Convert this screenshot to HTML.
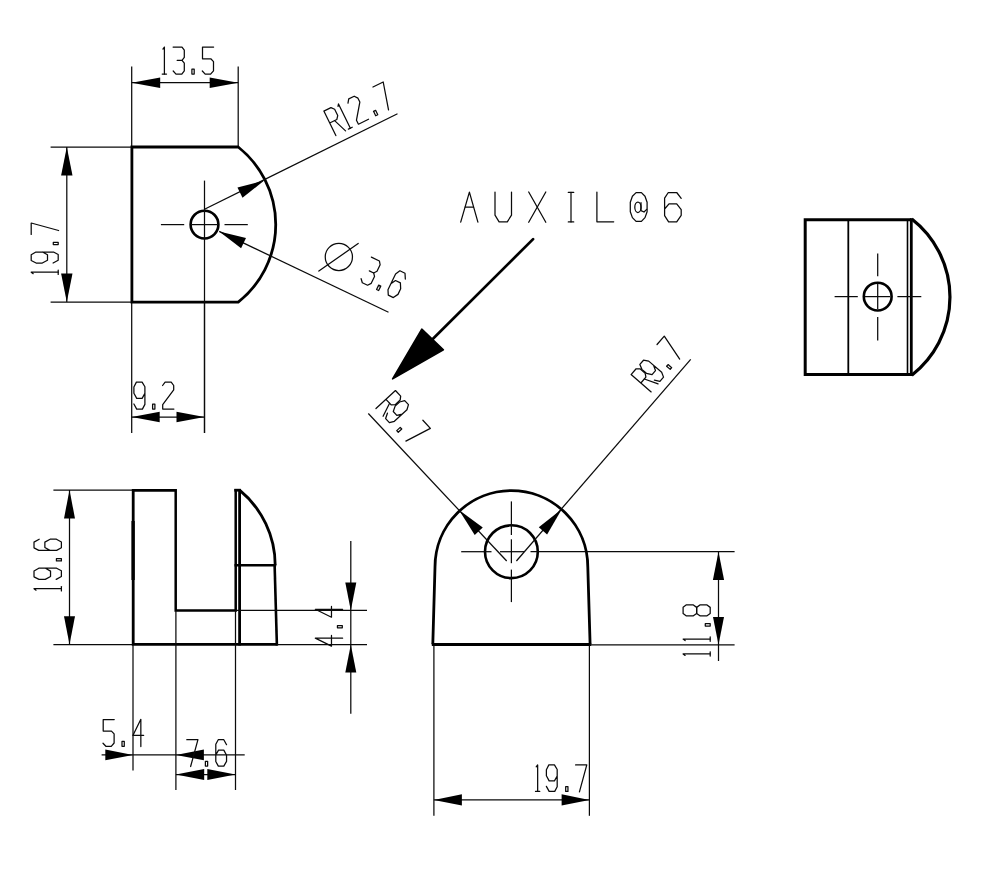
<!DOCTYPE html>
<html><head><meta charset="utf-8"><title>drawing</title>
<style>html,body{margin:0;padding:0;background:#fff;font-family:"Liberation Sans",sans-serif}svg{display:block}</style>
</head><body>
<svg width="1000" height="877" viewBox="0 0 1000 877">
<rect x="0" y="0" width="1000" height="877" fill="#fff"/>
<line x1="131.7" y1="66.4" x2="131.7" y2="433" stroke="#0a0a0a" stroke-width="1.25" stroke-linecap="butt"/>
<line x1="238.2" y1="66.4" x2="238.2" y2="146.5" stroke="#0a0a0a" stroke-width="1.25" stroke-linecap="butt"/>
<line x1="204.5" y1="302" x2="204.5" y2="433" stroke="#0a0a0a" stroke-width="1.25" stroke-linecap="butt"/>
<line x1="50.6" y1="147" x2="131" y2="147" stroke="#0a0a0a" stroke-width="1.25" stroke-linecap="butt"/>
<line x1="50.6" y1="302" x2="131" y2="302" stroke="#0a0a0a" stroke-width="1.25" stroke-linecap="butt"/>
<line x1="131.7" y1="82.7" x2="238.2" y2="82.7" stroke="#0a0a0a" stroke-width="1.25" stroke-linecap="butt"/>
<polygon points="131.7,82.7 160.2,77.5 160.2,87.9" fill="#000"/>
<polygon points="238.2,82.7 209.7,87.9 209.7,77.5" fill="#000"/>
<line x1="66.8" y1="147" x2="66.8" y2="302" stroke="#0a0a0a" stroke-width="1.25" stroke-linecap="butt"/>
<polygon points="66.8,147 72.5,175.4 61.1,175.4" fill="#000"/>
<polygon points="66.8,302 61.1,273.6 72.5,273.6" fill="#000"/>
<line x1="131.7" y1="417" x2="204.5" y2="417" stroke="#0a0a0a" stroke-width="1.25" stroke-linecap="butt"/>
<polygon points="131.7,417 159.7,411.8 159.7,422.2" fill="#000"/>
<polygon points="204.5,417 176.5,422.2 176.5,411.8" fill="#000"/>
<path d="M238.2 147 L131.9 147 L131.9 302.2 L238.2 302.2 A99 99 0 0 0 238.2 147 Z" fill="none" stroke="#000" stroke-width="2.8" stroke-linejoin="miter"/>
<circle cx="204.5" cy="224.6" r="13.9" fill="none" stroke="#000" stroke-width="2.6"/>
<line x1="160.9" y1="224.6" x2="184.2" y2="224.6" stroke="#0a0a0a" stroke-width="1.25" stroke-linecap="butt"/>
<line x1="192" y1="224.6" x2="217" y2="224.6" stroke="#0a0a0a" stroke-width="1.25" stroke-linecap="butt"/>
<line x1="224.5" y1="224.6" x2="247.8" y2="224.6" stroke="#0a0a0a" stroke-width="1.25" stroke-linecap="butt"/>
<line x1="204.5" y1="180.6" x2="204.5" y2="302" stroke="#0a0a0a" stroke-width="1.25" stroke-linecap="butt"/>
<line x1="204.5" y1="302" x2="204.5" y2="433" stroke="#0a0a0a" stroke-width="1.25" stroke-linecap="butt"/>
<line x1="204.5" y1="209.3" x2="397.5" y2="113.8" stroke="#0a0a0a" stroke-width="1.25" stroke-linecap="butt"/>
<polygon points="264.2,180.6 242.52,197.67 237.47,187.45" fill="#000"/>
<line x1="219.2" y1="231.4" x2="388.5" y2="312.3" stroke="#0a0a0a" stroke-width="1.25" stroke-linecap="butt"/>
<polygon points="219.2,231.4 246.01,237.93 241.09,248.21" fill="#000"/>
<path d="M162.9 49.1 L164.4 47.1 L164.4 74.1" fill="none" stroke="#0a0a0a" stroke-width="1.25" stroke-linejoin="round" stroke-linecap="round"/>
<path d="M162.2 74.1 L166.5 74.1" fill="none" stroke="#0a0a0a" stroke-width="1.25" stroke-linejoin="round" stroke-linecap="round"/>
<path d="M173.1 47.1 L182 47.1 L184.3 50.2 L184.3 57.4 L182 60.4 L177.2 60.4" fill="none" stroke="#0a0a0a" stroke-width="1.25" stroke-linejoin="round" stroke-linecap="round"/>
<path d="M182 60.4 L184.3 63.2 L184.3 70.8 L181.8 74.1 L176 74.1 L173.2 71" fill="none" stroke="#0a0a0a" stroke-width="1.25" stroke-linejoin="round" stroke-linecap="round"/>
<path d="M191.9 69.2 L194.2 69.2 L194.2 74.1 L191.9 74.1 L191.9 69.2" fill="none" stroke="#0a0a0a" stroke-width="1.25" stroke-linejoin="round" stroke-linecap="round"/>
<path d="M213.6 47.1 L202.5 47.1 L202.5 58.8 L210.8 58.8 L213.5 61.6 L213.5 70.8 L210.6 74.1 L205.2 74.1 L202.3 71" fill="none" stroke="#0a0a0a" stroke-width="1.25" stroke-linejoin="round" stroke-linecap="round"/>
<path d="M133.9 404 L136.7 409.1 L142.4 409.1 L144.9 404.4 L144.9 386.8 L142.1 382.1 L136.4 382.1 L133.9 387 L133.9 393.2 L136.7 398.4 L142.1 398.4 L144.9 393.4" fill="none" stroke="#0a0a0a" stroke-width="1.25" stroke-linejoin="round" stroke-linecap="round"/>
<path d="M152.6 404.2 L154.9 404.2 L154.9 409.1 L152.6 409.1 L152.6 404.2" fill="none" stroke="#0a0a0a" stroke-width="1.25" stroke-linejoin="round" stroke-linecap="round"/>
<path d="M162.6 385.5 L165.1 382.1 L171.2 382.1 L173.7 385.5 L173.7 389.8 L162.7 404.6 L162.7 409.1 L173.9 409.1" fill="none" stroke="#0a0a0a" stroke-width="1.25" stroke-linejoin="round" stroke-linecap="round"/>
<path d="M33.2 273.7 L31.2 272.2 L58.2 272.2" fill="none" stroke="#0a0a0a" stroke-width="1.25" stroke-linejoin="round" stroke-linecap="round"/>
<path d="M58.2 274.4 L58.2 270.1" fill="none" stroke="#0a0a0a" stroke-width="1.25" stroke-linejoin="round" stroke-linecap="round"/>
<path d="M53.1 263 L58.2 260.2 L58.2 254.5 L53.5 252 L35.9 252 L31.2 254.8 L31.2 260.5 L36.1 263 L42.3 263 L47.5 260.2 L47.5 254.8 L42.5 252" fill="none" stroke="#0a0a0a" stroke-width="1.25" stroke-linejoin="round" stroke-linecap="round"/>
<path d="M53.3 244.6 L53.3 242.3 L58.2 242.3 L58.2 244.6 L53.3 244.6" fill="none" stroke="#0a0a0a" stroke-width="1.25" stroke-linejoin="round" stroke-linecap="round"/>
<path d="M31.2 234.4 L31.2 223 L58.6 230.5" fill="none" stroke="#0a0a0a" stroke-width="1.25" stroke-linejoin="round" stroke-linecap="round"/>
<path d="M335.86 135.6 L323.85 111.08 L330.95 107.61 L334.64 109.25 L337.72 115.53 L336.8 119.55 L329.7 123.03" fill="none" stroke="#0a0a0a" stroke-width="1.25" stroke-linejoin="round" stroke-linecap="round"/>
<path d="M334.64 120.61 L345.56 130.85" fill="none" stroke="#0a0a0a" stroke-width="1.25" stroke-linejoin="round" stroke-linecap="round"/>
<path d="M338.02 106.37 L338.49 103.91 L350.37 128.16" fill="none" stroke="#0a0a0a" stroke-width="1.25" stroke-linejoin="round" stroke-linecap="round"/>
<path d="M348.39 129.13 L352.25 127.24" fill="none" stroke="#0a0a0a" stroke-width="1.25" stroke-linejoin="round" stroke-linecap="round"/>
<path d="M347.98 103.05 L348.73 98.9 L354.2 96.21 L357.94 98.17 L359.84 102.03 L356.47 120.16 L358.45 124.2 L368.51 119.27" fill="none" stroke="#0a0a0a" stroke-width="1.25" stroke-linejoin="round" stroke-linecap="round"/>
<path d="M373.54 111.35 L375.6 110.34 L377.76 114.74 L375.69 115.75 L373.54 111.35" fill="none" stroke="#0a0a0a" stroke-width="1.25" stroke-linejoin="round" stroke-linecap="round"/>
<path d="M372.97 87.02 L383.21 82 L388.53 109.91" fill="none" stroke="#0a0a0a" stroke-width="1.25" stroke-linejoin="round" stroke-linecap="round"/>
<path d="M371.37 257.11 L379.4 260.96 L380.13 264.75 L377.02 271.24 L373.65 272.95 L369.32 270.88" fill="none" stroke="#0a0a0a" stroke-width="1.25" stroke-linejoin="round" stroke-linecap="round"/>
<path d="M373.65 272.95 L374.51 276.47 L371.23 283.32 L367.55 285.22 L362.32 282.71 L361.13 278.71" fill="none" stroke="#0a0a0a" stroke-width="1.25" stroke-linejoin="round" stroke-linecap="round"/>
<path d="M378.69 285.12 L380.76 286.12 L378.64 290.53 L376.57 289.54 L378.69 285.12" fill="none" stroke="#0a0a0a" stroke-width="1.25" stroke-linejoin="round" stroke-linecap="round"/>
<path d="M405.33 279.04 L405.01 273.23 L399.87 270.76 L395.58 273.92 L387.98 289.8 L388.29 295.16 L393.34 297.58 L397.99 294.37 L400.66 288.78 L400.39 282.88 L395.52 280.54 L390.83 283.84" fill="none" stroke="#0a0a0a" stroke-width="1.25" stroke-linejoin="round" stroke-linecap="round"/>
<circle cx="338.85" cy="256.94" r="13.6" fill="none" stroke="#0a0a0a" stroke-width="1.25"/>
<line x1="318.87" y1="271.1" x2="358.17" y2="243.47" stroke="#0a0a0a" stroke-width="1.25" stroke-linecap="round"/>
<path d="M460.7 222.2 L469.4 192.2 L477.9 222.2" fill="none" stroke="#0a0a0a" stroke-width="1.25" stroke-linejoin="round" stroke-linecap="round"/>
<path d="M465.2 207 L473.5 207" fill="none" stroke="#0a0a0a" stroke-width="1.25" stroke-linejoin="round" stroke-linecap="round"/>
<path d="M495 192 L495 215.2 L499.1 221.8 L507.3 221.8 L511.5 215.2 L511.5 192" fill="none" stroke="#0a0a0a" stroke-width="1.25" stroke-linejoin="round" stroke-linecap="round"/>
<path d="M528.7 192 L545.8 222.3" fill="none" stroke="#0a0a0a" stroke-width="1.25" stroke-linejoin="round" stroke-linecap="round"/>
<path d="M545.8 192 L528.7 222.3" fill="none" stroke="#0a0a0a" stroke-width="1.25" stroke-linejoin="round" stroke-linecap="round"/>
<path d="M571 192.4 L571 221.9" fill="none" stroke="#0a0a0a" stroke-width="1.25" stroke-linejoin="round" stroke-linecap="round"/>
<path d="M568.3 192.4 L573.7 192.4" fill="none" stroke="#0a0a0a" stroke-width="1.25" stroke-linejoin="round" stroke-linecap="round"/>
<path d="M568.3 221.9 L573.7 221.9" fill="none" stroke="#0a0a0a" stroke-width="1.25" stroke-linejoin="round" stroke-linecap="round"/>
<path d="M596.9 192 L596.9 221.8 L613.7 221.8" fill="none" stroke="#0a0a0a" stroke-width="1.25" stroke-linejoin="round" stroke-linecap="round"/>
<path d="M681.2 198.3 L676.7 192.5 L668.3 192.5 L664.6 198.1 L664.6 215.7 L668.6 221.8 L676.7 221.8 L681.2 215.3 L681.2 209.7 L676.7 203.8 L669 203.8 L664.6 209" fill="none" stroke="#0a0a0a" stroke-width="1.25" stroke-linejoin="round" stroke-linecap="round"/>
<path d="M636.1 192.6 L641.4 192.6 L645 196.2 L647.1 202.2 L647.1 211.8 L645 217.6 L641.4 221.4 L636.1 221.4 L632.4 217.6 L630.3 211.8 L630.3 202.2 L632.4 196.2 Z" fill="none" stroke="#0a0a0a" stroke-width="1.25" stroke-linejoin="round" stroke-linecap="round"/>
<ellipse cx="637.9" cy="207.3" rx="3.1" ry="5.2" fill="none" stroke="#0a0a0a" stroke-width="1.25"/>
<path d="M641 202.7 L641 210.6 L644 212 L646.7 209.4" fill="none" stroke="#0a0a0a" stroke-width="1.25" stroke-linejoin="round" stroke-linecap="round"/>
<line x1="533.1" y1="239.1" x2="430" y2="341.7" stroke="#000" stroke-width="2.7" stroke-linecap="round"/>
<polygon points="392.6,378.9 421.8,329.2 443.4,349.8" fill="#000" stroke="#000" stroke-width="1.6" stroke-linejoin="round"/>
<path d="M911.3 219.7 L805.2 219.7 L805.2 374.5 L911.3 374.5" fill="none" stroke="#000" stroke-width="3"/>
<path d="M911.8 219.0 A99 99 0 0 1 911.8 375.2" fill="none" stroke="#000" stroke-width="3.2"/>
<line x1="911.3" y1="218.2" x2="911.3" y2="376" stroke="#000" stroke-width="2.8" stroke-linecap="butt"/>
<line x1="907.5" y1="219.8" x2="907.5" y2="374.4" stroke="#000" stroke-width="1.6" stroke-linecap="butt"/>
<line x1="848.3" y1="219.8" x2="848.3" y2="374.4" stroke="#000" stroke-width="1.8" stroke-linecap="butt"/>
<circle cx="877.7" cy="296.6" r="13.9" fill="none" stroke="#000" stroke-width="2.6"/>
<line x1="834.6" y1="296.6" x2="857.8" y2="296.6" stroke="#0a0a0a" stroke-width="1.25" stroke-linecap="butt"/>
<line x1="865" y1="296.6" x2="890.2" y2="296.6" stroke="#0a0a0a" stroke-width="1.25" stroke-linecap="butt"/>
<line x1="897.4" y1="296.6" x2="921.3" y2="296.6" stroke="#0a0a0a" stroke-width="1.25" stroke-linecap="butt"/>
<line x1="877.7" y1="253.5" x2="877.7" y2="276.2" stroke="#0a0a0a" stroke-width="1.25" stroke-linecap="butt"/>
<line x1="877.7" y1="284" x2="877.7" y2="309" stroke="#0a0a0a" stroke-width="1.25" stroke-linecap="butt"/>
<line x1="877.7" y1="316.9" x2="877.7" y2="340.4" stroke="#0a0a0a" stroke-width="1.25" stroke-linecap="butt"/>
<line x1="53.4" y1="490" x2="133" y2="490" stroke="#0a0a0a" stroke-width="1.25" stroke-linecap="butt"/>
<line x1="53.4" y1="644.6" x2="133" y2="644.6" stroke="#0a0a0a" stroke-width="1.25" stroke-linecap="butt"/>
<line x1="69.5" y1="490" x2="69.5" y2="644.6" stroke="#0a0a0a" stroke-width="1.25" stroke-linecap="butt"/>
<polygon points="69.5,490 75,518.4 64,518.4" fill="#000"/>
<polygon points="69.5,644.6 64,616.2 75,616.2" fill="#000"/>
<path d="M36.04 590.19 L34.01 588.67 L61.39 588.67" fill="none" stroke="#0a0a0a" stroke-width="1.25" stroke-linejoin="round" stroke-linecap="round"/>
<path d="M61.39 590.9 L61.39 586.54" fill="none" stroke="#0a0a0a" stroke-width="1.25" stroke-linejoin="round" stroke-linecap="round"/>
<path d="M56.22 579.39 L61.39 576.55 L61.39 570.77 L56.63 568.24 L38.77 568.24 L34.01 571.08 L34.01 576.86 L38.98 579.39 L45.27 579.39 L50.54 576.55 L50.54 571.08 L45.47 568.24" fill="none" stroke="#0a0a0a" stroke-width="1.25" stroke-linejoin="round" stroke-linecap="round"/>
<path d="M56.42 560.99 L56.42 558.66 L61.39 558.66 L61.39 560.99 L56.42 560.99" fill="none" stroke="#0a0a0a" stroke-width="1.25" stroke-linejoin="round" stroke-linecap="round"/>
<path d="M39.18 539.24 L34.01 542.08 L34.01 547.86 L38.77 550.39 L56.63 550.39 L61.39 547.76 L61.39 542.08 L56.42 539.24 L50.13 539.24 L44.86 542.08 L44.86 547.55 L49.93 550.39" fill="none" stroke="#0a0a0a" stroke-width="1.25" stroke-linejoin="round" stroke-linecap="round"/>
<path d="M175.7 490.4 L133.2 490.4 L133.2 644.3 L277.6 644.3" fill="none" stroke="#000" stroke-width="2.8" stroke-linejoin="miter" stroke-linecap="butt"/>
<path d="M175.7 489 L175.7 610.4 L235.7 610.4 L235.7 489" fill="none" stroke="#000" stroke-width="2.5" stroke-linejoin="miter" stroke-linecap="butt"/>
<line x1="133.1" y1="521" x2="133.1" y2="580" stroke="#000" stroke-width="3.3" stroke-linecap="butt"/>
<path d="M234.3 490.2 L240.8 490.2" fill="none" stroke="#000" stroke-width="2.8" stroke-linejoin="miter" stroke-linecap="butt"/>
<line x1="239.6" y1="489" x2="239.6" y2="645.5" stroke="#000" stroke-width="2.8" stroke-linecap="butt"/>
<path d="M239.6 490.2 A97.5 97.5 0 0 1 275.2 565.2" fill="none" stroke="#000" stroke-width="2.8"/>
<line x1="234.5" y1="565.2" x2="276.2" y2="565.2" stroke="#000" stroke-width="2.6" stroke-linecap="butt"/>
<line x1="274.6" y1="564.2" x2="276.9" y2="645.5" stroke="#000" stroke-width="2.6" stroke-linecap="butt"/>
<line x1="235.7" y1="610.4" x2="367" y2="610.4" stroke="#0a0a0a" stroke-width="1.25" stroke-linecap="butt"/>
<line x1="277" y1="644.6" x2="367" y2="644.6" stroke="#0a0a0a" stroke-width="1.25" stroke-linecap="butt"/>
<line x1="133" y1="645" x2="133" y2="770.6" stroke="#0a0a0a" stroke-width="1.25" stroke-linecap="butt"/>
<line x1="175.9" y1="611" x2="175.9" y2="790" stroke="#0a0a0a" stroke-width="1.25" stroke-linecap="butt"/>
<line x1="235.5" y1="611" x2="235.5" y2="790" stroke="#0a0a0a" stroke-width="1.25" stroke-linecap="butt"/>
<line x1="350.8" y1="541" x2="350.8" y2="713.7" stroke="#0a0a0a" stroke-width="1.25" stroke-linecap="butt"/>
<polygon points="350.8,610.4 345.3,582.6 356.3,582.6" fill="#000"/>
<polygon points="350.8,644.8 356.3,672.6 345.3,672.6" fill="#000"/>
<path d="M342.6 638.16 L315.3 638.16 L331.48 646.1 L331.48 635.38" fill="none" stroke="#0a0a0a" stroke-width="1.25" stroke-linejoin="round" stroke-linecap="round"/>
<path d="M337.44 627.8 L337.44 625.52 L342.3 625.52 L342.3 627.8 L337.44 627.8" fill="none" stroke="#0a0a0a" stroke-width="1.25" stroke-linejoin="round" stroke-linecap="round"/>
<path d="M342.6 609.26 L315.3 609.26 L331.48 617.2 L331.48 606.48" fill="none" stroke="#0a0a0a" stroke-width="1.25" stroke-linejoin="round" stroke-linecap="round"/>
<line x1="101.6" y1="754.9" x2="244.7" y2="754.9" stroke="#0a0a0a" stroke-width="1.25" stroke-linecap="butt"/>
<polygon points="133,754.9 105.3,760.3 105.3,749.5" fill="#000"/>
<polygon points="175.9,754.9 203.9,749.5 203.9,760.3" fill="#000"/>
<line x1="175.9" y1="774.5" x2="235.5" y2="774.5" stroke="#0a0a0a" stroke-width="1.25" stroke-linecap="butt"/>
<polygon points="175.9,774.5 204.2,769.1 204.2,779.9" fill="#000"/>
<polygon points="235.5,774.5 207.3,779.9 207.3,769.1" fill="#000"/>
<path d="M114.22 719.5 L103.2 719.5 L103.2 731.11 L111.44 731.11 L114.12 733.89 L114.12 743.03 L111.24 746.3 L105.88 746.3 L103 743.23" fill="none" stroke="#0a0a0a" stroke-width="1.25" stroke-linejoin="round" stroke-linecap="round"/>
<path d="M122 741.44 L124.28 741.44 L124.28 746.3 L122 746.3 L122 741.44" fill="none" stroke="#0a0a0a" stroke-width="1.25" stroke-linejoin="round" stroke-linecap="round"/>
<path d="M140.84 746.6 L140.84 719.3 L132.9 735.48 L143.62 735.48" fill="none" stroke="#0a0a0a" stroke-width="1.25" stroke-linejoin="round" stroke-linecap="round"/>
<path d="M186.8 739.69 L197.95 739.69 L190.61 766.5" fill="none" stroke="#0a0a0a" stroke-width="1.25" stroke-linejoin="round" stroke-linecap="round"/>
<path d="M205.39 761.32 L207.64 761.32 L207.64 766.11 L205.39 766.11 L205.39 761.32" fill="none" stroke="#0a0a0a" stroke-width="1.25" stroke-linejoin="round" stroke-linecap="round"/>
<path d="M226.55 744.68 L223.81 739.69 L218.24 739.69 L215.79 744.29 L215.79 761.51 L218.33 766.11 L223.81 766.11 L226.55 761.32 L226.55 755.25 L223.81 750.16 L218.53 750.16 L215.79 755.05" fill="none" stroke="#0a0a0a" stroke-width="1.25" stroke-linejoin="round" stroke-linecap="round"/>
<path d="M432.8 644.4 L435 567 A76.4 76.4 0 0 1 587.8 567 L590.1 644.4" fill="none" stroke="#000" stroke-width="2.8"/>
<line x1="431.8" y1="644.4" x2="591.2" y2="644.4" stroke="#000" stroke-width="3" stroke-linecap="butt"/>
<circle cx="511.4" cy="551.7" r="26.4" fill="none" stroke="#000" stroke-width="2.6"/>
<line x1="461.2" y1="551.7" x2="491.5" y2="551.7" stroke="#0a0a0a" stroke-width="1.25" stroke-linecap="butt"/>
<line x1="500" y1="551.7" x2="524" y2="551.7" stroke="#0a0a0a" stroke-width="1.25" stroke-linecap="butt"/>
<line x1="530.5" y1="551.7" x2="734.6" y2="551.7" stroke="#0a0a0a" stroke-width="1.25" stroke-linecap="butt"/>
<line x1="511.4" y1="501.4" x2="511.4" y2="535" stroke="#0a0a0a" stroke-width="1.25" stroke-linecap="butt"/>
<line x1="511.4" y1="539.3" x2="511.4" y2="563.2" stroke="#0a0a0a" stroke-width="1.25" stroke-linecap="butt"/>
<line x1="511.4" y1="569.6" x2="511.4" y2="602.1" stroke="#0a0a0a" stroke-width="1.25" stroke-linecap="butt"/>
<line x1="368.3" y1="413.5" x2="506.7" y2="561" stroke="#0a0a0a" stroke-width="1.25" stroke-linecap="butt"/>
<polygon points="459,510 482.77,527.5 474.71,534.99" fill="#000"/>
<line x1="690.7" y1="359.3" x2="516.4" y2="561" stroke="#0a0a0a" stroke-width="1.25" stroke-linecap="butt"/>
<polygon points="561.9,509 547.11,534.55 538.79,527.36" fill="#000"/>
<path d="M375.97 408.53 L395.46 390.54 L400.67 396.18 L400.17 400.08 L395.17 404.69 L391.17 404.94 L385.97 399.3" fill="none" stroke="#0a0a0a" stroke-width="1.25" stroke-linejoin="round" stroke-linecap="round"/>
<path d="M389.59 403.23 L383.09 416.24" fill="none" stroke="#0a0a0a" stroke-width="1.25" stroke-linejoin="round" stroke-linecap="round"/>
<path d="M387.42 413.2 L385.63 418.56 L389.38 422.63 L394.38 421.32 L406.95 409.72 L408.46 404.63 L404.7 400.56 L399.56 402 L395.13 406.08 L393.27 411.51 L396.82 415.36 L402.24 414.07" fill="none" stroke="#0a0a0a" stroke-width="1.25" stroke-linejoin="round" stroke-linecap="round"/>
<path d="M400.23 427.37 L401.75 429.01 L398.25 432.24 L396.73 430.6 L400.23 427.37" fill="none" stroke="#0a0a0a" stroke-width="1.25" stroke-linejoin="round" stroke-linecap="round"/>
<path d="M422.87 420.24 L430.38 428.38 L405.87 441.07" fill="none" stroke="#0a0a0a" stroke-width="1.25" stroke-linejoin="round" stroke-linecap="round"/>
<path d="M651.17 391.91 L631.09 374.58 L636.11 368.77 L640.04 368.82 L645.19 373.27 L645.89 377.21 L640.88 383.02" fill="none" stroke="#0a0a0a" stroke-width="1.25" stroke-linejoin="round" stroke-linecap="round"/>
<path d="M644.37 378.97 L658.03 383.96" fill="none" stroke="#0a0a0a" stroke-width="1.25" stroke-linejoin="round" stroke-linecap="round"/>
<path d="M654.39 380.15 L659.91 381.33 L663.53 377.14 L661.66 372.32 L648.72 361.14 L643.49 360.22 L639.87 364.41 L641.89 369.36 L646.44 373.3 L652.05 374.54 L655.47 370.57 L653.57 365.33" fill="none" stroke="#0a0a0a" stroke-width="1.25" stroke-linejoin="round" stroke-linecap="round"/>
<path d="M666.62 366.27 L668.08 364.58 L671.69 367.69 L670.23 369.38 L666.62 366.27" fill="none" stroke="#0a0a0a" stroke-width="1.25" stroke-linejoin="round" stroke-linecap="round"/>
<path d="M657.04 344.52 L664.28 336.13 L679.67 359.04" fill="none" stroke="#0a0a0a" stroke-width="1.25" stroke-linejoin="round" stroke-linecap="round"/>
<line x1="590" y1="644.8" x2="734.6" y2="644.8" stroke="#0a0a0a" stroke-width="1.25" stroke-linecap="butt"/>
<line x1="718.5" y1="551.7" x2="718.5" y2="661" stroke="#0a0a0a" stroke-width="1.25" stroke-linecap="butt"/>
<polygon points="718.5,551.7 724.1,580 712.9,580" fill="#000"/>
<polygon points="718.5,644.8 713,617 724,617" fill="#000"/>
<path d="M685.11 655.4 L683.1 653.89 L710.2 653.89" fill="none" stroke="#0a0a0a" stroke-width="1.25" stroke-linejoin="round" stroke-linecap="round"/>
<path d="M710.2 656.1 L710.2 651.78" fill="none" stroke="#0a0a0a" stroke-width="1.25" stroke-linejoin="round" stroke-linecap="round"/>
<path d="M685.11 640.6 L683.1 639.09 L710.2 639.09" fill="none" stroke="#0a0a0a" stroke-width="1.25" stroke-linejoin="round" stroke-linecap="round"/>
<path d="M710.2 641.3 L710.2 636.98" fill="none" stroke="#0a0a0a" stroke-width="1.25" stroke-linejoin="round" stroke-linecap="round"/>
<path d="M705.28 626 L705.28 623.69 L710.2 623.69 L710.2 626 L705.28 626" fill="none" stroke="#0a0a0a" stroke-width="1.25" stroke-linejoin="round" stroke-linecap="round"/>
<path d="M683.1 613.39 L683.1 607.37 L686.41 604.86 L693.04 604.86 L696.65 607.37 L696.65 613.39 L693.04 615.9 L686.41 615.9 L683.1 613.39" fill="none" stroke="#0a0a0a" stroke-width="1.25" stroke-linejoin="round" stroke-linecap="round"/>
<path d="M696.65 613.39 L696.65 607.37 L700.26 604.86 L706.69 604.86 L710.2 607.37 L710.2 613.39 L706.69 615.9 L700.26 615.9 L696.65 613.39" fill="none" stroke="#0a0a0a" stroke-width="1.25" stroke-linejoin="round" stroke-linecap="round"/>
<line x1="433.9" y1="645" x2="433.9" y2="815.8" stroke="#0a0a0a" stroke-width="1.25" stroke-linecap="butt"/>
<line x1="589.4" y1="645" x2="589.4" y2="815.8" stroke="#0a0a0a" stroke-width="1.25" stroke-linecap="butt"/>
<line x1="433.9" y1="799.9" x2="589.4" y2="799.9" stroke="#0a0a0a" stroke-width="1.25" stroke-linecap="butt"/>
<polygon points="433.9,799.9 461.9,794.3 461.9,805.5" fill="#000"/>
<polygon points="589.4,799.9 561.6,805.5 561.6,794.3" fill="#000"/>
<path d="M536.18 766.86 L537.66 764.89 L537.66 791.41" fill="none" stroke="#0a0a0a" stroke-width="1.25" stroke-linejoin="round" stroke-linecap="round"/>
<path d="M535.5 791.41 L539.72 791.41" fill="none" stroke="#0a0a0a" stroke-width="1.25" stroke-linejoin="round" stroke-linecap="round"/>
<path d="M546.39 786.4 L549.14 791.41 L554.74 791.41 L557.19 786.79 L557.19 769.51 L554.44 764.89 L548.85 764.89 L546.39 769.7 L546.39 775.79 L549.14 780.9 L554.44 780.9 L557.19 775.99" fill="none" stroke="#0a0a0a" stroke-width="1.25" stroke-linejoin="round" stroke-linecap="round"/>
<path d="M565.69 786.6 L567.95 786.6 L567.95 791.41 L565.69 791.41 L565.69 786.6" fill="none" stroke="#0a0a0a" stroke-width="1.25" stroke-linejoin="round" stroke-linecap="round"/>
<path d="M575.6 764.89 L586.79 764.89 L579.43 791.8" fill="none" stroke="#0a0a0a" stroke-width="1.25" stroke-linejoin="round" stroke-linecap="round"/>
</svg>
</body></html>
